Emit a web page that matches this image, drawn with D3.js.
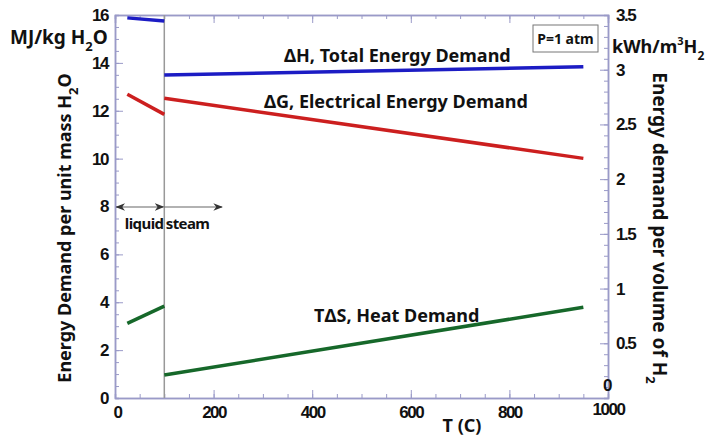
<!DOCTYPE html>
<html>
<head>
<meta charset="utf-8">
<script src="https://cdn.jsdelivr.net/npm/d3@7"></script>
<style>
  body { margin: 0; background: #fff; }
  svg { font-family: 'Noto Sans', 'DejaVu Sans', sans-serif; }
  .tick text { font-size: 17px; font-weight: 700; fill: #111; letter-spacing: -1.5px; }
  .lbl { font-weight: 700; fill: #111; }
</style>
</head>
<body>
<div id="container"></div>
<script>
const WIDTH = 706;
const HEIGHT = 438;
const MARGIN = { TOP: 15, BOTTOM: 40, LEFT: 115, RIGHT: 98 };

const width = WIDTH - MARGIN.LEFT - MARGIN.RIGHT;
const height = HEIGHT - MARGIN.TOP - MARGIN.BOTTOM;

// T (C) at both ends of each segment, energy in MJ/kg H2O
const liquidT = [25, 100];
const steamT = [100, 950];
const totalLiquid = [15.88, 15.75];
const totalSteam = [13.49, 13.84];
const electricLiquid = [12.69, 11.85];
const electricSteam = [12.52, 10.01];
const heatLiquid = [3.12, 3.84];
const heatSteam = [0.96, 3.79];

const xTicks = [0, 200, 400, 600, 800, 1000];
const yTicks = [0, 2, 4, 6, 8, 10, 12, 14, 16];
const y2Ticks = [0, 0.5, 1, 1.5, 2, 2.5, 3, 3.5];

const series = [
  { name: 'total', color: '#1c1cc4', t: [liquidT, steamT], v: [totalLiquid, totalSteam] },
  { name: 'electric', color: '#cc1f1f', t: [liquidT, steamT], v: [electricLiquid, electricSteam] },
  { name: 'heat', color: '#16682a', t: [liquidT, steamT], v: [heatLiquid, heatSteam] }
];

const svg = d3.select('#container')
              .append('svg')
                .attr('width', WIDTH)
                .attr('height', HEIGHT);

const g = svg.append('g')
             .attr('transform', `translate(${MARGIN.LEFT}, ${MARGIN.TOP})`);

const xscale = d3.scaleLinear().domain([0, 1000]).range([0, width]);
const yscale = d3.scaleLinear().domain([0, 16]).range([height, 0]);
const y2scale = d3.scaleLinear().domain([0, 3.5]).range([height, 0]);

const AXIS = '#9a9ac8';

// minor ticks (inside)
const minor = (axis, scale, vals, size) => axis(scale).tickValues(vals).tickSize(size).tickFormat('');

g.append('g').attr('transform', `translate(0, ${height})`)
  .call(minor(d3.axisTop, xscale, d3.range(0, 1001, 50), 4));
g.append('g')
  .call(minor(d3.axisBottom, xscale, d3.range(0, 1001, 50), 4));
g.append('g')
  .call(minor(d3.axisRight, yscale, d3.range(0, 16.01, 0.5), 4));
g.append('g').attr('transform', `translate(${width}, 0)`)
  .call(minor(d3.axisLeft, y2scale, d3.range(0, 3.51, 0.1), 4));

// major ticks and labels
const xAxis = g.append('g')
               .attr('class', 'axis axis--x')
               .attr('transform', `translate(0, ${height})`)
               .call(d3.axisBottom(xscale).tickValues(xTicks).tickSize(0).tickPadding(8).tickFormat(d3.format('d')));
xAxis.selectAll('.tick')
     .append('line')
     .attr('y2', -8);

g.append('g')
  .call(d3.axisBottom(xscale).tickValues(xTicks).tickSize(8).tickFormat(''));

const yAxis = g.append('g')
               .attr('class', 'axis axis--y')
               .call(d3.axisLeft(yscale).tickValues(yTicks).tickSize(0).tickPadding(7));
yAxis.selectAll('.tick')
     .append('line')
     .attr('x2', 8);

const y2Axis = g.append('g')
                .attr('class', 'axis axis--y2')
                .attr('transform', `translate(${width}, 0)`)
                .call(d3.axisRight(y2scale).tickValues(y2Ticks).tickSize(0).tickPadding(8)
                  .tickFormat(d => d === 0 ? '0' : d3.format('.1f')(d).replace(/\.0$/, '')));
y2Axis.selectAll('.tick')
      .append('line')
      .attr('x2', -8);

g.selectAll('.domain').attr('stroke', AXIS).attr('stroke-width', 1.5);
g.selectAll('.tick line').attr('stroke', AXIS);

// end labels: right "0" sits just above "1000"
xAxis.selectAll('.tick text').filter(d => d === 1000).attr('dy', '0.55em');
y2Axis.selectAll('.tick text').filter(d => d === 0).attr('dy', '-0.45em').attr('dx', -13);
xAxis.selectAll('.tick text').filter(d => d === 0).attr('dx', 2);

// phase boundary
g.append('line')
  .attr('x1', xscale(100)).attr('x2', xscale(100))
  .attr('y1', 0).attr('y2', height)
  .attr('stroke', '#999').attr('stroke-width', 1.5);

// data lines
const line = d3.line().x(d => xscale(d[0])).y(d => yscale(d[1]));
series.forEach(s => {
  s.t.forEach((ts, i) => {
    g.append('path')
      .datum(ts.map((t, j) => [t, s.v[i][j]]))
      .attr('d', line)
      .attr('fill', 'none')
      .attr('stroke', s.color)
      .attr('stroke-width', 3.5);
  });
});

// liquid / steam arrows
const defs = svg.append('defs');
defs.append('marker')
    .attr('id', 'arr')
    .attr('viewBox', '0 0 10 10')
    .attr('refX', 9).attr('refY', 5)
    .attr('markerWidth', 8).attr('markerHeight', 8)
    .attr('orient', 'auto-start-reverse')
  .append('path')
    .attr('d', 'M0,1 L10,5 L0,9 L3,5 Z')
    .attr('fill', '#333');

const arrowY = yscale(7.98);
g.append('line')
  .attr('x1', xscale(3)).attr('x2', xscale(98))
  .attr('y1', arrowY).attr('y2', arrowY)
  .attr('stroke', '#666').attr('stroke-width', 1.2)
  .attr('marker-start', 'url(#arr)').attr('marker-end', 'url(#arr)');
g.append('line')
  .attr('x1', xscale(100)).attr('x2', xscale(217))
  .attr('y1', arrowY).attr('y2', arrowY)
  .attr('stroke', '#666').attr('stroke-width', 1.2)
  .attr('marker-end', 'url(#arr)');

g.append('text').attr('class', 'lbl')
  .attr('x', xscale(20)).attr('y', arrowY + 22)
  .attr('font-size', 15).attr('letter-spacing', -0.6)
  .text('liquid');
g.append('text').attr('class', 'lbl')
  .attr('x', xscale(103)).attr('y', arrowY + 22)
  .attr('font-size', 15).attr('letter-spacing', -0.6)
  .text('steam');

// curve labels
svg.append('text').attr('class', 'lbl')
   .attr('x', 284).attr('y', 62).attr('font-size', 18)
   .text('ΔH, Total Energy Demand');
svg.append('text').attr('class', 'lbl')
   .attr('x', 264).attr('y', 108).attr('font-size', 18)
   .text('ΔG, Electrical Energy Demand');
svg.append('text').attr('class', 'lbl')
   .attr('x', 314).attr('y', 322).attr('font-size', 18)
   .text('TΔS, Heat Demand');

// pressure box
svg.append('rect')
   .attr('x', 533).attr('y', 25).attr('width', 65).attr('height', 27)
   .attr('fill', '#fff').attr('stroke', '#777').attr('stroke-width', 1);
svg.append('text').attr('class', 'lbl')
   .attr('x', 565.5).attr('y', 44).attr('text-anchor', 'middle').attr('font-size', 14)
   .text('P=1 atm');

// units
const mj = svg.append('text').attr('class', 'lbl')
   .attr('x', 10).attr('y', 44).attr('font-size', 19);
mj.append('tspan').text('MJ/kg H');
mj.append('tspan').attr('font-size', 13).attr('dy', 7).text('2');
mj.append('tspan').attr('dy', -7).text('O');

const kwh = svg.append('text').attr('class', 'lbl')
   .attr('x', 612).attr('y', 53).attr('font-size', 18);
kwh.append('tspan').text('kWh/m');
kwh.append('tspan').attr('font-size', 11).attr('dy', -8).text('3');
kwh.append('tspan').attr('dy', 8).text('H');
kwh.append('tspan').attr('font-size', 12).attr('dy', 7).text('2');

// axis titles
const yt = svg.append('text').attr('class', 'lbl')
   .attr('transform', 'translate(71, 228) rotate(-90)')
   .attr('text-anchor', 'middle').attr('font-size', 18);
yt.append('tspan').text('Energy Demand per unit mass H');
yt.append('tspan').attr('font-size', 13).attr('dy', 7).text('2');
yt.append('tspan').attr('dy', -7).text('O');

const y2t = svg.append('text').attr('class', 'lbl')
   .attr('transform', 'translate(653, 228) rotate(90)')
   .attr('text-anchor', 'middle').attr('font-size', 19);
y2t.append('tspan').text('Energy demand per volume of H');
y2t.append('tspan').attr('font-size', 13).attr('dy', 7).text('2');

svg.append('text').attr('class', 'lbl')
   .attr('x', 462).attr('y', 432).attr('text-anchor', 'middle').attr('font-size', 18)
   .text('T (C)');
</script>
</body>
</html>
